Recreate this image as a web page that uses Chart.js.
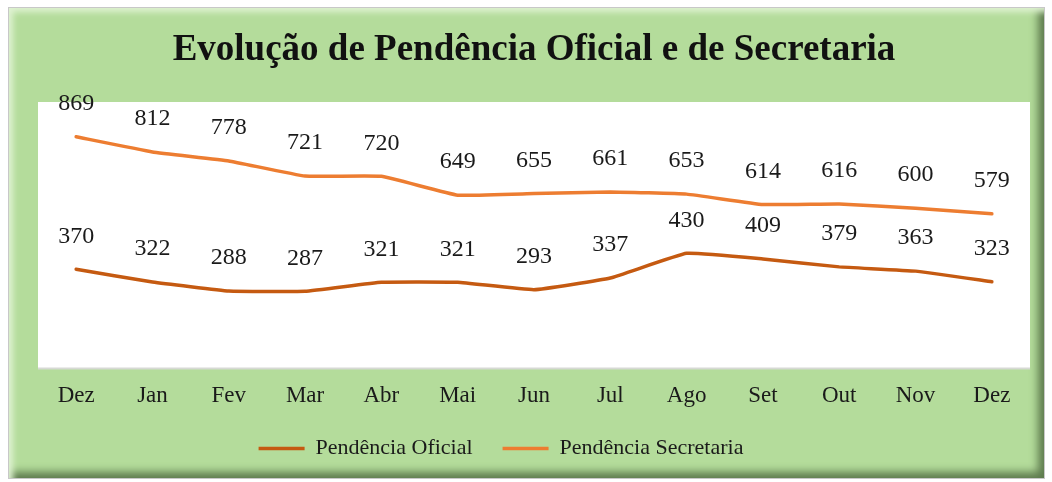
<!DOCTYPE html>
<html>
<head>
<meta charset="utf-8">
<script src="https://cdn.jsdelivr.net/npm/chart.js@4/dist/chart.umd.min.js"></script>
<style>
  html, body { margin: 0; padding: 0; background: #fff; }
  #frame {
    position: absolute; left: 8px; top: 7px; width: 1035px; height: 470px;
    background: #b4dc9b; border: 1px solid #c8c8c8;
    box-shadow: inset 7px 7px 6px -3px #dff2d2, inset -9px -9px 8px -3px #5e7b4e;
  }
  #wrap { position: absolute; left: 0; top: 0; width: 1052px; height: 482px; }
</style>
</head>
<body>
<div id="frame"></div>
<div id="wrap"><canvas id="chart_1" width="1052" height="482"></canvas></div>
<script>
const months = ["Dez", "Jan", "Fev", "Mar", "Abr", "Mai", "Jun", "Jul", "Ago", "Set", "Out", "Nov", "Dez"];
const oficial = [370, 322, 288, 287, 321, 321, 293, 337, 430, 409, 379, 363, 323];
const secretaria = [869, 812, 778, 721, 720, 649, 655, 661, 653, 614, 616, 600, 579];
const series_labels = ["Pendência Oficial", "Pendência Secretaria"];
const colors = ["#c55a11", "#ed7d31"];

const serif = "'Liberation Serif', 'Times New Roman', serif";

// white plot background
const plot_bg = {
  id: 'plot_bg',
  beforeDraw(chart) {
    const a = chart.chartArea;
    const ctx = chart.ctx;
    ctx.save();
    ctx.fillStyle = '#d6d9d4';
    ctx.fillRect(a.left, a.top + 2, a.right - a.left, a.bottom - a.top);
    ctx.fillStyle = '#ffffff';
    ctx.fillRect(a.left, a.top, a.right - a.left, a.bottom - a.top);
    ctx.restore();
  }
};

// value labels above each point
const value_labels = {
  id: 'value_labels',
  afterDatasetsDraw(chart) {
    const ctx = chart.ctx;
    ctx.save();
    ctx.font = "24px " + serif;
    ctx.fillStyle = '#1a1a1a';
    ctx.textAlign = 'center';
    ctx.textBaseline = 'middle';
    chart.data.datasets.forEach(function(ds, i) {
      chart.getDatasetMeta(i).data.forEach(function(pt, j) {
        ctx.fillText(ds.data[j], pt.x, pt.y - 33);
      });
    });
    ctx.restore();
  }
};

const ctx = document.getElementById('chart_1').getContext('2d');
const chart = new Chart(ctx, {
  type: 'line',
  data: {
    labels: months,
    datasets: [
      { label: series_labels[0], data: oficial, borderColor: colors[0], backgroundColor: colors[0], borderWidth: 3.5 },
      { label: series_labels[1], data: secretaria, borderColor: colors[1], backgroundColor: colors[1], borderWidth: 3.5 }
    ]
  },
  options: {
    responsive: false,
    animation: false,
    layout: { padding: { left: 38, right: 22, top: 0, bottom: 12.5 } },
    elements: {
      line: { tension: 0.1, borderCapStyle: 'round' },
      point: { radius: 0, hoverRadius: 0 }
    },
    scales: {
      x: {
        offset: true,
        grid: { display: false, drawTicks: false },
        border: { display: false },
        ticks: { color: '#1a1a1a', padding: 15, font: { family: serif, size: 23 } },
        afterFit(scale) { scale.height = 40; }
      },
      y: { display: false, min: 0, max: 1000 }
    },
    plugins: {
      title: {
        display: true,
        text: "Evolução de Pendência Oficial e de Secretaria",
        color: '#111',
        font: { family: serif, size: 37, weight: 'bold' },
        padding: { top: 28, bottom: 29.6 }
      },
      legend: {
        position: 'bottom',
        labels: {
          color: '#1a1a1a',
          font: { family: serif, size: 22 },
          usePointStyle: true,
          pointStyle: 'line',
          pointStyleWidth: 46,
          padding: 30,
          generateLabels(chart) {
            const items = Chart.defaults.plugins.legend.labels.generateLabels(chart);
            // trailing space on the last entry keeps the legend group left of centre
            items[items.length - 1].text += '\u00a0'.repeat(12);
            return items;
          }
        }
      },
      tooltip: { enabled: false }
    }
  },
  plugins: [plot_bg, value_labels]
});
</script>
</body>
</html>
